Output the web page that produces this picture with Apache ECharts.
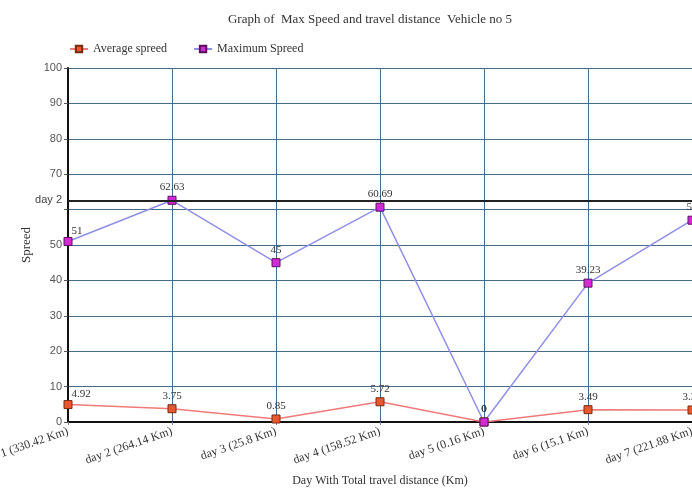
<!DOCTYPE html>
<html>
<head>
<meta charset="utf-8">
<script src="https://cdn.jsdelivr.net/npm/echarts@6/dist/echarts.min.js"></script>
<style>html,body{margin:0;padding:0;background:#fff;}#c{width:692px;height:491px;}</style>
</head>
<body>
<div id="c"></div>
<script>
var categories = ['day 1 (330.42 Km)', 'day 2 (264.14 Km)', 'day 3 (25.8 Km)', 'day 4 (158.52 Km)', 'day 5 (0.16 Km)', 'day 6 (15.1 Km)', 'day 7 (221.88 Km)'];
var averageSpeed = [4.92, 3.75, 0.85, 5.72, 0, 3.49, 3.39];
var maximumSpeed = [51, 62.63, 45, 60.69, 0, 39.23, 57];
var markValue = 62.63;
var markLabel = 'day 2';

var serif = 'Liberation Serif';
var chart = echarts.init(document.getElementById('c'));
function withFirstOffset(arr) {
  return arr.map(function (v, i) {
    if (i === 0) return { value: v, label: { position: 'right', offset: [-4, -10] } };
    return v;
  });
}
chart.setOption({
  animation: false,
  title: {
    text: 'Graph of  Max Speed and travel distance  Vehicle no 5',
    left: 365, top: 8, textAlign: 'center',
    textStyle: { fontFamily: serif, fontSize: 13, fontWeight: 'normal', color: '#333' }
  },
  legend: {
    left: 64, top: 38, itemGap: 26, itemWidth: 18, itemHeight: 8,
    textStyle: { fontFamily: serif, fontSize: 12, color: '#333' },
    data: ['Average spreed', 'Maximum Spreed']
  },
  grid: { left: 68, right: 0, top: 68, bottom: 69, containLabel: false, outerBoundsMode: 'none' },
  xAxis: {
    type: 'category', data: categories, boundaryGap: false,
    name: 'Day With Total travel distance (Km)', nameLocation: 'middle', nameGap: 53,
    nameTextStyle: { fontFamily: serif, fontSize: 12, color: '#333' },
    axisLine: { lineStyle: { color: '#111', width: 2 } },
    axisTick: { show: true, length: 3, lineStyle: { color: '#888' } },
    axisLabel: { rotate: 19, fontFamily: serif, fontSize: 12, color: '#333', margin: 9, interval: 0, hideOverlap: false },
    splitLine: { show: true, lineStyle: { color: '#4a6b88', width: 1 } }
  },
  yAxis: {
    type: 'value', min: 0, max: 100, interval: 10,
    name: 'Spreed', nameLocation: 'middle', nameGap: 30,
    nameTextStyle: { fontFamily: serif, fontSize: 13, color: '#333' },
    axisLine: { show: true, lineStyle: { color: '#111', width: 2 } },
    axisTick: { show: true, length: 4, lineStyle: { color: '#555' } },
    axisLabel: {
      fontFamily: 'Liberation Sans', fontSize: 11, color: '#555', margin: 6,
      formatter: function (v) { return v === 60 ? '' : v; }
    },
    splitLine: { show: true, lineStyle: { color: '#4a6b88', width: 1 } }
  },
  series: [
    {
      name: 'Average spreed', type: 'line', data: withFirstOffset(averageSpeed),
      symbol: 'rect', symbolSize: 8,
      lineStyle: { color: '#f07a7a', width: 1.5 },
      itemStyle: { color: '#e8572e', borderColor: '#7a2a10', borderWidth: 1 },
      label: { show: true, position: 'top', distance: 3, fontFamily: serif, fontSize: 11, color: '#333' }
    },
    {
      name: 'Maximum Spreed', type: 'line', data: withFirstOffset(maximumSpeed),
      symbol: 'rect', symbolSize: 8,
      lineStyle: { color: '#8f8fe8', width: 1.5 },
      itemStyle: { color: '#d42ad4', borderColor: '#5a1060', borderWidth: 1 },
      label: { show: true, position: 'top', distance: 3, fontFamily: serif, fontSize: 11, color: '#333' },
      markLine: {
        silent: true, symbol: ['none', 'none'],
        lineStyle: { color: '#222', width: 2, type: 'solid' },
        label: { show: true, position: 'start', formatter: markLabel, fontFamily: 'Liberation Sans', fontSize: 11, color: '#444', distance: 6 },
        data: [{ yAxis: markValue }]
      }
    }
  ]
});
</script>
</body>
</html>
